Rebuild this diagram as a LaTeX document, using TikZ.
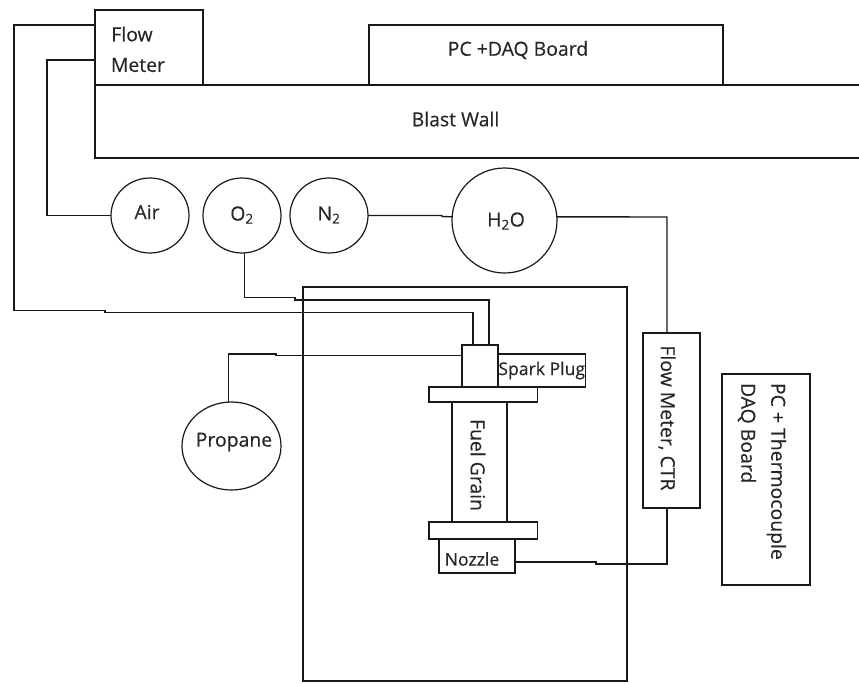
\documentclass[tikz,border=0pt]{standalone}
\usepackage{fontspec}
\setmainfont{Open Sans}[RawFeature={embolden=0.35}]
\usetikzlibrary{shapes.geometric}
\tikzset{
 every node/.style={inner sep=0pt,outer sep=0pt},
 ln/.style={draw=black!90,line width=1.4pt},
 lbl/.style={font=\fontsize{19.4pt}{30pt}\selectfont,text=black!85},
 lbs/.style={font=\fontsize{17.6pt}{22pt}\selectfont,text=black!85},
 gas/.style={draw=black!90,line width=1.2pt,ellipse},
 bx/.style={ln,anchor=north west}
}
\begin{document}
\begin{tikzpicture}[x=1pt,y=-1pt]
\useasboundingbox (0,0) rectangle (859,683);
\node[bx,minimum width=108pt,minimum height=75pt] (fm) at (95,10) {};
\node[lbl] (fmt) at (132,34) {Flow};
\node[lbl] (fmb) at (138,65) {Meter};
\node[bx,minimum width=354pt,minimum height=60pt] (pc) at (369,25) {};
\node[lbl] (pct) at (518,50) {PC +DAQ Board};
\draw[ln] (870,85) -- (95,85) -- (95,158) -- (870,158);
\node[lbl] (bw) at (455.5,119) {Blast Wall};
\node[gas,minimum width=78pt,minimum height=75pt] (air) at (150,215.5) {};
\node[lbl] (airt) at (147,212) {Air};
\node[gas,minimum width=78pt,minimum height=75pt] (o2) at (242,215.5) {};
\node[lbl] (o2t) at (242,215) {O\textsubscript{2}};
\node[gas,minimum width=78pt,minimum height=75pt] (n2) at (329,215.5) {};
\node[lbl] (n2t) at (329,215) {N\textsubscript{2}};
\node[gas,minimum width=105pt,minimum height=105pt] (h2o) at (504.5,220.5) {};
\node[lbl] (h2ot) at (506,221) {H\textsubscript{2}O};
\node[gas,minimum width=99pt,minimum height=88pt] (prop) at (231.5,446) {};
\node[lbl] (propt) at (234,442) {Propane};
\node[bx,minimum width=324pt,minimum height=394pt] (rig) at (303,287) {};
\node[bx,minimum width=36pt,minimum height=42pt] (head) at (462,345) {};
\node[bx,lbs,minimum width=87.5pt,minimum height=33pt] (sp) at (498,354) {Spark Plug};
\node[bx,minimum width=108.5pt,minimum height=15pt] (ft) at (429,387) {};
\node[bx,minimum width=55pt,minimum height=120pt] (fg) at (452,402) {};
\node[lbl,rotate=-90] (fgt) at (478,465) {Fuel Grain};
\node[bx,minimum width=108.5pt,minimum height=17pt] (fb) at (429,522) {};
\node[bx,minimum width=76pt,minimum height=34pt] (noz) at (439,539) {};
\node[lbs] (nozt) at (472,559) {Nozzle};
\node[bx,minimum width=57pt,minimum height=175pt] (ctr) at (643,333) {};
\node[lbl,rotate=-90] (ctrt) at (667,418) {Flow Meter, CTR};
\node[bx,minimum width=88pt,minimum height=211pt] (daq) at (722,374) {};
\node[lbl,rotate=-90,align=left,anchor=north west] (daqt) at (786,383) {PC + Thermocouple\\DAQ Board};
\draw[ln] (fm.north west |- 0,25) -- (14,25) -- (14,310.5) -- (105,310.5) -- (105,312.5) -- (473,312.5) -- (head.north west -| 473,0);
\draw[ln] (fm.north west |- 0,60) -- (47,60) |- (air.west);
\draw[ln] (o2.274) |- (295,297.5) -- (295,300) -- (489,300) -- (head.north west -| 489,0);
\draw[ln] (n2.east) -- (442,215.5) -- (442,216.5) -- (h2o.176);
\draw[ln] (h2o.4) -- (667,217) -- (ctr.north -| 667,0);
\draw[ln] (prop.94) |- (276,354) -- (276,355.5) -- (head.west |- 0,355.5);
\draw[ln] (noz.east |- 0,562) -- (596,562) -- (596,564) -- (667,564) -- (ctr.south -| 667,0);
\end{tikzpicture}
\end{document}
